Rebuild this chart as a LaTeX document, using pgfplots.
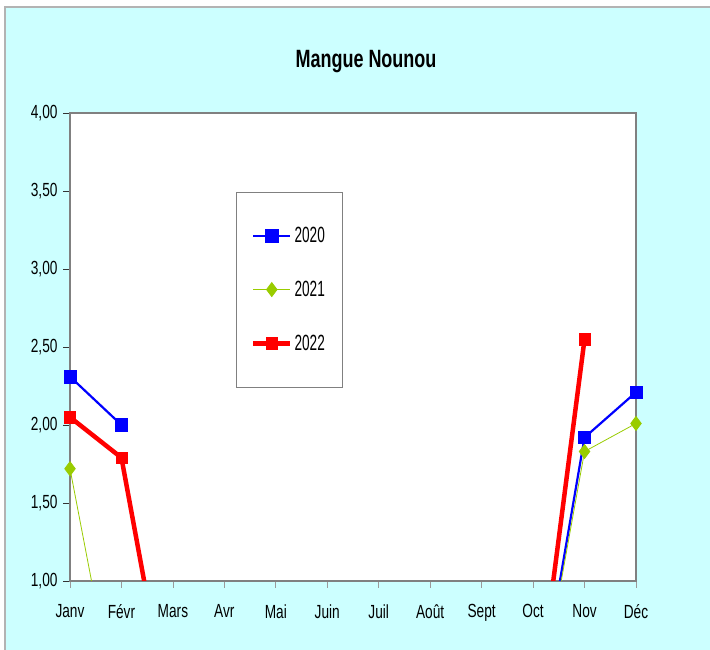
\documentclass[border=0pt]{standalone}
\usepackage{fontspec}
\setmainfont{Liberation Sans}[FakeStretch=0.72]
\newfontfamily\legfont{Liberation Sans}[FakeStretch=0.62]
\usepackage{pgfplots}
\pgfplotsset{compat=1.18}
\definecolor{bgcyan}{RGB}{204,255,255}
\definecolor{vert21}{RGB}{153,204,0}
\definecolor{cadre}{RGB}{128,128,128}

% valeurs mensuelles (0 = Janv ... 11 = Déc), nan = pas de donnée
\pgfplotstableread{
m   a2020  a2021  a2022
0   2.31   1.72   2.05
1   2.00   0      1.79
2   nan    nan    0
3   nan    nan    nan
4   nan    nan    nan
5   nan    nan    nan
6   nan    nan    nan
7   nan    nan    nan
8   nan    nan    nan
9   0      0      0
10  1.92   1.83   2.55
11  2.21   2.01   nan
}\mangue

\begin{document}
\begin{tikzpicture}[x=1pt,y=1pt]
\useasboundingbox (0,0) rectangle (710,650);
\fill[bgcyan] (5,0) rectangle (710,643);
\draw[cadre!60, line width=1.5pt] (5,0) -- (5,643) -- (710,643);
\node[font=\fontsize{25}{28}\selectfont\bfseries] at (366,588) {Mangue Nounou};
\begin{axis}[
  at={(70pt,69pt)}, anchor=south west,
  scale only axis, width=566pt, height=468pt,
  xmin=0, xmax=11, ymin=1, ymax=4,
  xtick={0,...,11},
  xticklabels={Janv,Févr,Mars,Avr,Mai,Juin,Juil,Août,Sept,Oct,Nov,Déc},
  ytick={1,1.5,...,4},
  xtick pos=bottom, ytick pos=left,
  /pgf/number format/assume math mode=true,
  yticklabel style={xshift=-2pt, /pgf/number format/use comma,
    /pgf/number format/fixed, /pgf/number format/fixed zerofill,
    /pgf/number format/precision=2},
  tick align=outside,
  major tick length=7pt,
  x tick style={cadre!80, line width=0.8pt},
  y tick style={black!80, line width=0.8pt},
  axis line style={cadre, line width=1.6pt},
  axis background/.style={fill=white},
  ticklabel style={font=\fontsize{19}{21}\selectfont},
  xticklabel style={yshift=-13pt},
  unbounded coords=jump,
  legend style={at={(0.293,0.831)}, anchor=north west, draw=cadre, fill=white,
    font=\legfont\fontsize{22}{23}\selectfont, inner xsep=15pt, inner ysep=33pt,
    row sep=33pt, cells={anchor=west}},
  legend image code/.code={
    \draw[mark repeat=2, mark phase=2, #1] plot coordinates {(0pt,0pt) (18.5pt,0pt) (37pt,0pt)};},
]
\addplot[blue, line width=2.2pt, mark=square*, mark size=6.2pt, mark options={line width=0.6pt}]
  table[x=m, y=a2020] {\mangue};
\addplot[vert21, line width=0.8pt, mark=diamond*, mark size=7pt]
  table[x=m, y=a2021] {\mangue};
\addplot[red, line width=4.5pt, mark=square*, mark size=5.7pt, mark options={line width=0.5pt}]
  table[x=m, y=a2022] {\mangue};
\legend{2020, 2021, 2022}
\end{axis}
\end{tikzpicture}
\end{document}
